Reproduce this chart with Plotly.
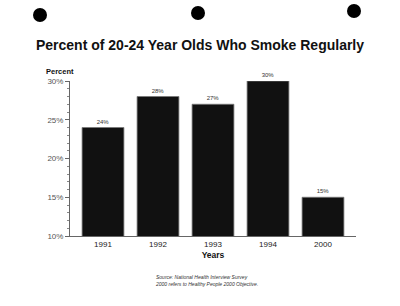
import plotly.graph_objects as go

years = ["1991", "1992", "1993", "1994", "2000"]
values = [24, 28, 27, 30, 15]
labels = ["24%", "28%", "27%", "30%", "15%"]
tick_vals = [10, 15, 20, 25, 30]
tick_text = ["10%", "15%", "20%", "25%", "30%"]

fig = go.Figure()
fig.add_trace(go.Bar(
    x=years, y=values, text=labels, textposition="outside",
    textfont=dict(size=6, color="#333", family="Arial"),
    marker=dict(color="#111111", line=dict(color="#777", width=0.8)),
    cliponaxis=False, width=0.76,
))

fig.update_layout(
    width=400, height=306,
    margin=dict(l=70, r=44, t=81, b=70),
    paper_bgcolor="white", plot_bgcolor="white",
    showlegend=False,
    font=dict(family="Arial, Liberation Sans", color="#222"),
    title=dict(text="<b>Percent of 20-24 Year Olds Who Smoke Regularly</b>",
               x=0.5, xanchor="center", y=1 - 45 / 306, yanchor="middle",
               font=dict(size=14, color="#111")),
)
fig.update_yaxes(
    range=[10, 30], tickvals=tick_vals, ticktext=tick_text,
    showgrid=False, zeroline=False, showline=True, linecolor="#666", linewidth=1,
    ticks="outside", ticklen=4, tickcolor="#666",
    tickfont=dict(size=8, color="#555"),
    minor=dict(dtick=1, ticks="outside", ticklen=2, tickcolor="#888"),
)
fig.update_xaxes(
    range=[-0.6, 4.6],
    showgrid=False, showline=True, linecolor="#666", linewidth=1,
    ticks="", tickfont=dict(size=8, color="#222"),
    title=dict(text="<b>Years</b>", font=dict(size=8.5, color="#111"), standoff=4),
)
fig.add_annotation(text="<b>Percent</b>", xref="paper", yref="paper",
                   x=(44 - 70) / 286, y=1 + 10 / 155, xanchor="left", yanchor="middle",
                   showarrow=False, font=dict(size=7.5, color="#111"))
fig.add_annotation(text="<i>Source: National Health Interview Survey<br>2000 refers to Healthy People 2000 Objective.</i>",
                   xref="paper", yref="paper", x=(153 - 70) / 286, y=-(280 - 236) / 155,
                   xanchor="left", yanchor="middle", align="left", showarrow=False,
                   font=dict(size=5, color="#333"))

# binder holes
for cx, cy, r in [(40, 15, 7), (198, 13, 7), (354, 11, 7)]:
    fig.add_shape(type="circle", xref="paper", yref="paper",
                  x0=(cx - r - 70) / 286, x1=(cx + r - 70) / 286,
                  y0=(236 - cy - r) / 155, y1=(236 - cy + r) / 155,
                  fillcolor="black", line=dict(width=0))

fig.write_html("out.html")
